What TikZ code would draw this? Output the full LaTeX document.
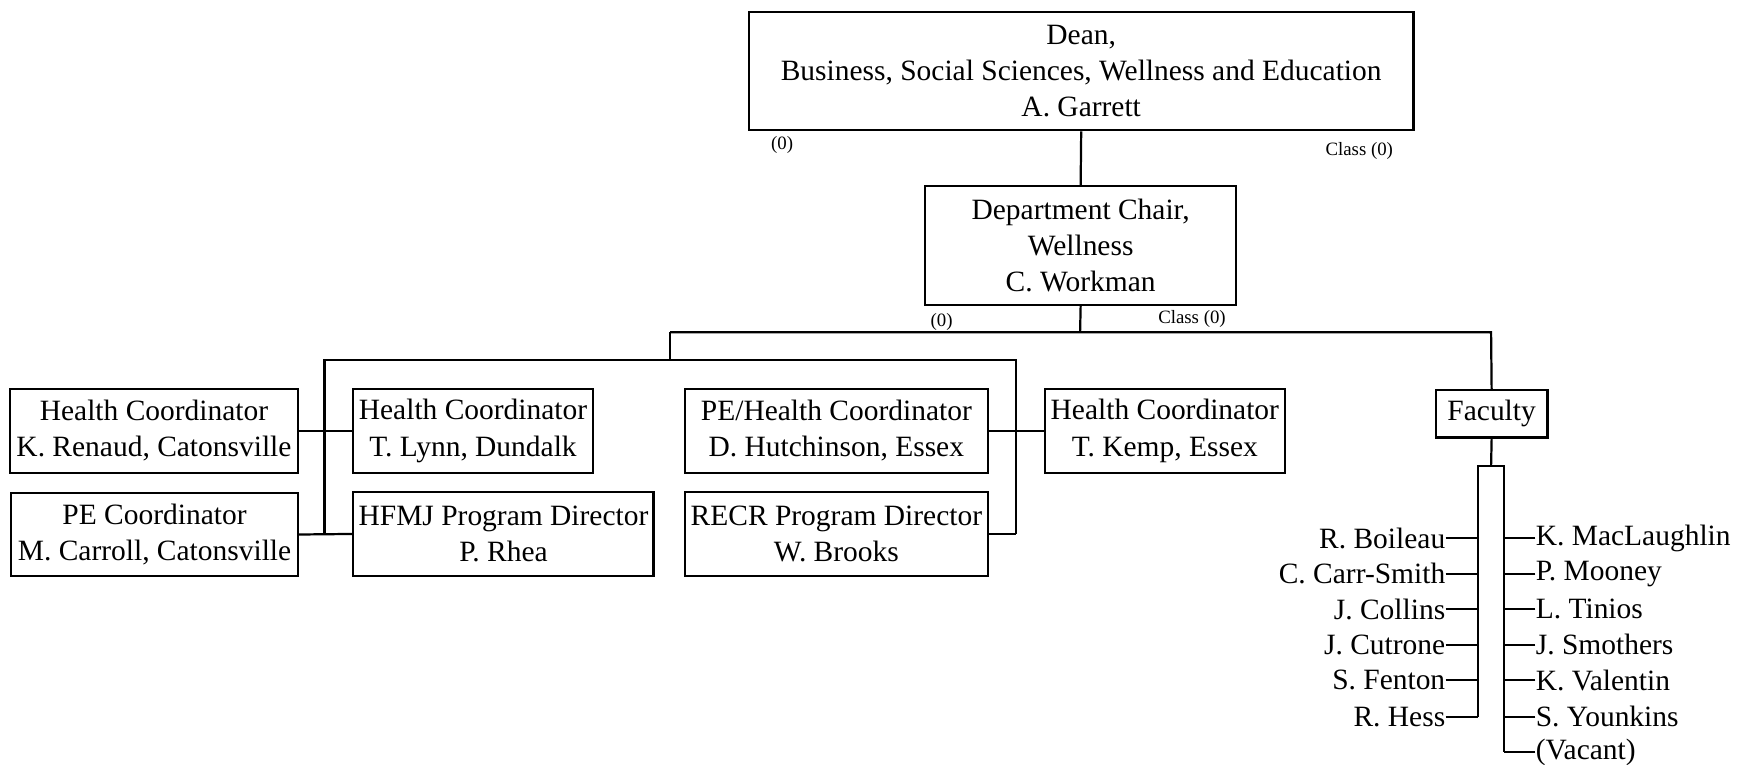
\documentclass[tikz,border=0pt]{standalone}
\usepackage{fontspec}
\setmainfont{Liberation Serif}
\begin{document}
\begin{tikzpicture}[x=0.5pt,y=-0.5pt,
  obox/.style={draw, line width=1pt, inner sep=0pt, align=center, font=\fontsize{13.3}{16.3}\selectfont},
  conn/.style={line width=1pt},
  smalllab/.style={inner sep=0pt, font=\fontsize{8.5}{10}\selectfont},
  fname/.style={inner sep=0pt, font=\fontsize{13.3}{16}\selectfont}]
\useasboundingbox (0,0) rectangle (1568,690);
% boxes
\node[obox, minimum width=300pt, minimum height=53.5pt] (dean) at (976,64) {Dean,\\Business, Social Sciences, Wellness and Education\\A. Garrett};
\node[obox, minimum width=140.5pt, minimum height=53.5pt] (chair) at (975.5,221.5) {Department Chair,\\Wellness\\C. Workman};
\node[obox, minimum width=130pt, minimum height=38pt] (renaud) at (139,389) {Health Coordinator\\K. Renaud, Catonsville};
\node[obox, minimum width=108pt, minimum height=38pt] (lynn) at (427,389) {Health Coordinator\\T. Lynn, Dundalk};
\node[obox, minimum width=129.5pt, minimum height=37.5pt] (carroll) at (139.5,482.5) {PE Coordinator\\M. Carroll, Catonsville};
\node[obox, minimum width=135.5pt, minimum height=38pt] (rhea) at (454.5,482) {HFMJ Program Director\\P. Rhea};
\node[obox, minimum width=137pt, minimum height=38pt] (hutch) at (755,389) {PE/Health Coordinator\\D. Hutchinson, Essex};
\node[obox, minimum width=108.5pt, minimum height=38pt] (kemp) at (1051.5,389) {Health Coordinator\\T. Kemp, Essex};
\node[obox, minimum width=137pt, minimum height=38pt] (brooks) at (755,482) {RECR Program Director\\W. Brooks};
\node[obox, minimum width=50.5pt, minimum height=21.5pt] (faculty) at (1346.5,373.5) {Faculty};
% small labels
\node[smalllab] (d0) at (706,131) {(0)};
\node[smalllab] (dc) at (1227,136) {Class (0)};
\node[smalllab] (c0) at (850,291) {(0)};
\node[smalllab] (cc) at (1076,288) {Class (0)};
% bus coordinates
\coordinate (bus1) at (975,300);
\coordinate (bus1l) at (605,300);
\coordinate (bus1r) at (1346,300);
\coordinate (bus2) at (605,325);
\coordinate (bus2l) at (293,325);
\coordinate (bus2r) at (917,325);
\coordinate (lspine) at (293,482);
\coordinate (rspine) at (917,482);
% connectors
\draw[conn] (dean.south) -- (chair.north);
\draw[conn] (chair.south) -- (bus1);
\draw[conn] (bus1l) -- (bus1r) -- (faculty.north);
\draw[conn] (bus1l) -- (bus2);
\draw[conn] (lspine) -- (bus2l) -- (bus2r) -- (rspine);
\draw[conn] (renaud.east) -- (lynn.west);
\draw[conn] (carroll.east) -- (rhea.west);
\draw[conn] (hutch.east) -- (kemp.west);
\draw[conn] (brooks.east) -- (rspine);
% faculty list
\coordinate (ftop) at (1346,421);
\coordinate (fl) at (1334,421);
\coordinate (fr) at (1358,421);
\coordinate (flb) at (1334,647);
\coordinate (frb) at (1358,679);
\draw[conn] (faculty.south) -- (ftop);
\draw[conn] (flb) -- (fl) -- (fr) -- (frb);
\foreach \n/\t/\y in {l1/R. Boileau/486, l2/C. Carr-Smith/518, l3/J. Collins/550, l4/J. Cutrone/582, l5/S. Fenton/614, l6/R. Hess/647}{
  \node[fname, anchor=east] (\n) at (1305,\y) {\t};
  \draw[conn] (\n.east) -- (fl |- \n.east);
}
\foreach \n/\t/\y in {r1/K. MacLaughlin/486, r2/P. Mooney/518, r3/L. Tinios/550, r4/J. Smothers/582, r5/K. Valentin/614, r6/S. Younkins/647, r7/(Vacant)/679}{
  \node[fname, anchor=west] (\n) at (1386,\y) {\t};
  \draw[conn] (\n.west) -- (fr |- \n.west);
}
\end{tikzpicture}
\end{document}
